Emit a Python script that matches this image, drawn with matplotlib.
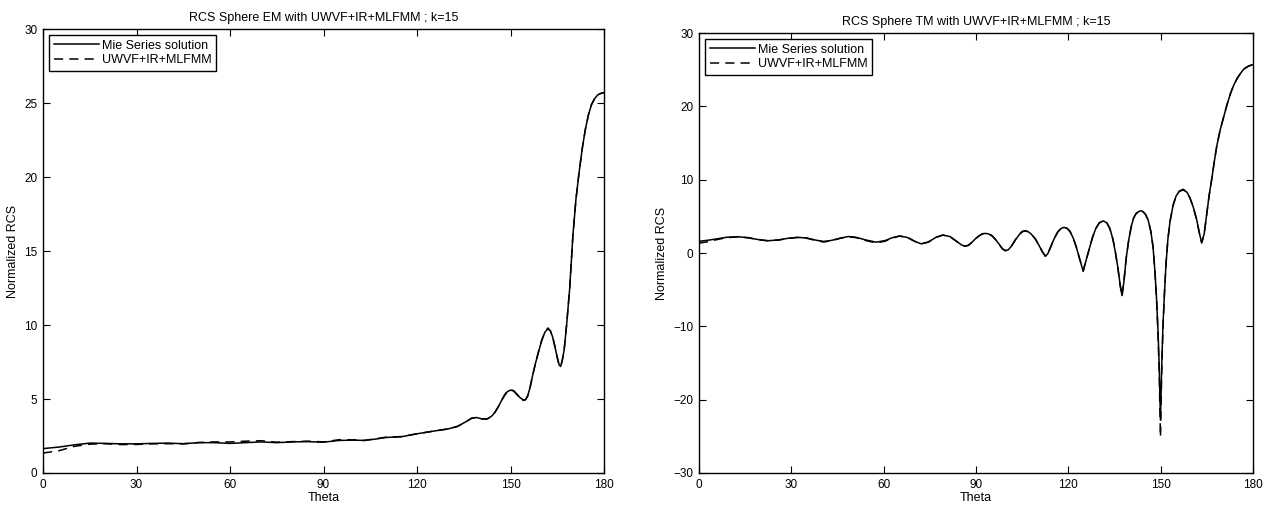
import matplotlib
matplotlib.use('Agg')
import matplotlib.pyplot as plt

plt.rcParams['font.family'] = ['Liberation Sans', 'DejaVu Sans']

# ---- EM polarisation (left panel) ----
em_theta = [0, 5, 10, 15, 20, 25, 30, 35, 40, 45, 50, 55, 60, 65, 70, 75, 80, 85, 90,
            95, 100, 103, 107, 110, 115, 120, 125, 130, 133, 136, 137.5, 139, 141, 142.5,
            144, 145, 146, 147, 148, 149, 150, 151, 152, 153, 154, 154.8, 155.5, 156.3,
            157, 158, 159, 160, 161, 162, 162.8, 163.5, 164.3, 165, 165.6, 166.1, 166.6,
            167.2, 168, 169, 170, 171, 172, 173, 174, 175, 176, 177, 178, 179, 180]
em_mie = [1.65, 1.75, 1.9, 2.02, 2.0, 1.97, 1.97, 2.0, 2.02, 1.98, 2.05, 2.05, 2.0, 2.05,
          2.1, 2.05, 2.1, 2.12, 2.08, 2.2, 2.22, 2.2, 2.3, 2.4, 2.45, 2.65, 2.82, 2.98,
          3.15, 3.5, 3.7, 3.75, 3.65, 3.65, 3.85, 4.1, 4.45, 4.85, 5.2, 5.5, 5.6, 5.55,
          5.35, 5.1, 4.95, 4.95, 5.2, 5.8, 6.5, 7.4, 8.2, 8.95, 9.5, 9.75, 9.6, 9.2,
          8.5, 7.8, 7.3, 7.2, 7.6, 8.3, 10.0, 12.5, 16.0, 18.5, 20.3, 21.9, 23.2, 24.2,
          24.9, 25.3, 25.55, 25.65, 25.7]
em_uwvf = [1.35, 1.5, 1.8, 1.95, 1.98, 1.92, 1.93, 1.97, 1.98, 1.97, 2.06, 2.1, 2.1, 2.15,
           2.18, 2.08, 2.12, 2.15, 2.1, 2.25, 2.24, 2.2, 2.32, 2.42, 2.46, 2.65, 2.82, 2.98,
           3.15, 3.5, 3.7, 3.75, 3.65, 3.65, 3.85, 4.1, 4.45, 4.85, 5.25, 5.55, 5.65, 5.55,
           5.3, 5.05, 4.9, 4.95, 5.2, 5.8, 6.5, 7.4, 8.2, 8.95, 9.5, 9.8, 9.6, 9.2,
           8.5, 7.8, 7.3, 7.2, 7.6, 8.3, 10.0, 12.5, 16.0, 18.5, 20.3, 21.9, 23.2, 24.2,
           24.9, 25.3, 25.55, 25.65, 25.7]

# ---- TM polarisation (right panel) ----
tm_theta = [0, 3, 6, 9, 12.5, 16, 19, 22.5, 26, 29, 32, 35, 38, 40.5, 43, 46, 48.5, 51,
            54, 57.5, 60.5, 62.5, 65, 67.5, 70, 72.2, 74.5, 77, 79.2, 81.5,
            84, 85.3, 86.4, 87.5, 88.5, 89.8, 91, 92, 93, 94, 95.2, 96.4, 97.5, 98.5,
            99.5, 100.5, 101.5, 102.8, 104, 105, 106, 107, 108, 109.3, 110.5, 111.5,
            112.5, 113.3, 114, 115.3, 116.5, 117.6, 118.6, 119.6, 120.5, 121.5, 122.5,
            123.5, 124.8, 125.8, 126.8, 127.8, 128.9, 130, 131.3, 132.5, 133.5, 134.5,
            135.3, 136, 136.8, 137.4, 138, 138.8, 139.6, 140.4, 141.2, 142, 143, 143.9,
            145, 145.9, 146.8, 147.5, 148.1, 148.6, 149.1, 149.5, 149.9, 150.3, 150.7,
            151.2, 151.7, 152.3, 153, 154, 155, 156, 157.3, 158.5, 159.5, 160.6, 161.7,
            162.5, 163.3, 164.1, 164.9, 165.7, 166.6, 167.4, 168.2, 169.3, 170.4, 171.5,
            172.6, 173.7, 174.8, 175.9, 177, 178.5, 180]
tm_mie = [1.6, 1.75, 1.95, 2.15, 2.22, 2.1, 1.85, 1.68, 1.8, 2.02, 2.14, 2.05, 1.75, 1.58,
          1.72, 2.05, 2.25, 2.15, 1.8, 1.48, 1.7, 2.05, 2.32, 2.15, 1.6, 1.25, 1.5, 2.15,
          2.45, 2.25,
          1.5, 1.1, 0.92, 1.05, 1.4, 1.95, 2.35, 2.6, 2.68, 2.62, 2.35, 1.8, 1.2, 0.6,
          0.3, 0.45, 0.95, 1.8, 2.5, 2.9, 3.0, 2.9, 2.55, 1.9, 1.0, 0.2,
          -0.45, -0.1, 0.6, 1.9, 2.85, 3.35, 3.5, 3.35, 2.95, 2.1, 0.9,
          -0.6, -2.5, -0.9, 0.6, 2.1, 3.35, 4.1, 4.4, 4.1, 3.3, 1.8,
          0.0, -1.8, -4.3, -5.8, -4.0, -0.6, 1.8, 3.6, 4.8, 5.4, 5.7, 5.75,
          5.3, 4.5, 2.9, 0.8, -2.5, -6.0, -10.5, -15.5, -22.8, -15.5, -10.0,
          -5.5, -1.5, 1.8, 4.3, 6.5, 7.8, 8.4, 8.6, 8.3, 7.5, 6.2, 4.5,
          2.8, 1.4, 2.6, 5.2, 7.8, 10.2, 12.5, 14.6, 16.8, 18.5, 20.2,
          21.7, 22.9, 23.8, 24.5, 25.1, 25.5, 25.7]
tm_uwvf = [1.35, 1.55, 1.85, 2.1, 2.2, 2.08, 1.82, 1.66, 1.78, 2.0, 2.12, 2.02, 1.7, 1.5,
           1.68, 2.02, 2.2, 2.1, 1.72, 1.38, 1.62, 2.0, 2.3, 2.2, 1.62, 1.25, 1.5, 2.15,
           2.45, 2.25,
           1.5, 1.1, 0.95, 1.05, 1.4, 1.95, 2.35, 2.62, 2.7, 2.62, 2.35, 1.8, 1.2, 0.6,
           0.35, 0.45, 0.95, 1.85, 2.55, 2.95, 3.05, 2.9, 2.55, 1.9, 1.0, 0.2,
           -0.4, -0.1, 0.6, 1.9, 2.85, 3.4, 3.55, 3.35, 2.95, 2.1, 0.9,
           -0.6, -2.4, -0.9, 0.6, 2.1, 3.35, 4.1, 4.4, 4.1, 3.3, 1.8,
           0.0, -1.8, -4.4, -5.9, -4.0, -0.6, 1.8, 3.6, 4.8, 5.4, 5.75, 5.8,
           5.3, 4.5, 2.9, 0.8, -2.5, -6.0, -11.0, -16.5, -25.1, -16.5, -10.5,
           -5.5, -1.5, 1.8, 4.3, 6.5, 7.8, 8.45, 8.7, 8.35, 7.5, 6.2, 4.5,
           2.8, 1.4, 2.6, 5.2, 7.8, 10.2, 12.5, 14.6, 16.8, 18.5, 20.2,
           21.7, 22.9, 23.8, 24.5, 25.1, 25.5, 25.7]

x_ticks = [0, 30, 60, 90, 120, 150, 180]
legend_labels = ['Mie Series solution', 'UWVF+IR+MLFMM']

fig = plt.figure(figsize=(12.74, 5.08), dpi=100)
ax1 = fig.add_axes([0.0338, 0.0689, 0.4403, 0.874])
ax2 = fig.add_axes([0.5487, 0.0689, 0.4349, 0.866])


def style_axes(ax, title, ylim, yticks):
    ax.set_xlim(0, 180)
    ax.set_ylim(*ylim)
    ax.set_xticks(x_ticks)
    ax.set_yticks(yticks)
    ax.tick_params(direction='in', top=True, right=True, length=5, width=0.8,
                   labelsize=8.5, pad=4)
    for s in ax.spines.values():
        s.set_linewidth(1.0)
    ax.set_title(title, fontsize=9, pad=6)
    ax.set_xlabel('Theta', fontsize=9, labelpad=1)
    ax.set_ylabel('Normalized RCS', fontsize=9, labelpad=4)
    leg = ax.legend(loc='upper left', fontsize=9, fancybox=False, framealpha=1,
                    edgecolor='black', handlelength=3.6, borderaxespad=0.5,
                    borderpad=0.35, labelspacing=0.2, handletextpad=0.3)
    leg.get_frame().set_linewidth(1.0)


ax1.plot(em_theta, em_mie, color='black', lw=1.1, label=legend_labels[0])
ax1.plot(em_theta, em_uwvf, color='black', lw=1.1, ls=(0, (6, 4)), label=legend_labels[1])
style_axes(ax1, 'RCS Sphere EM with UWVF+IR+MLFMM ; k=15', (0, 30), range(0, 31, 5))

ax2.plot(tm_theta, tm_mie, color='black', lw=1.1, label=legend_labels[0])
ax2.plot(tm_theta, tm_uwvf, color='black', lw=1.1, ls=(0, (6, 4)), label=legend_labels[1])
style_axes(ax2, 'RCS Sphere TM with UWVF+IR+MLFMM ; k=15', (-30, 30), range(-30, 31, 10))

fig.savefig('out.png', dpi=100)
